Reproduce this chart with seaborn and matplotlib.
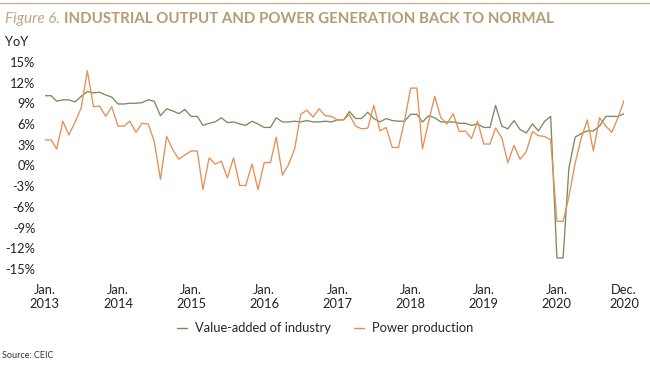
import pandas as pd
import numpy as np
import matplotlib
matplotlib.use("Agg")
from matplotlib import pyplot as plt
from matplotlib.lines import Line2D
import seaborn as sns

# monthly YoY growth, Jan 2013 - Dec 2020 (Jan and Feb reported together)
industry = [
    10.1, 10.1, 9.3, 9.5, 9.5, 9.2, 10.0, 10.7, 10.5, 10.6, 10.2, 9.9,
    8.9, 8.9, 9.0, 9.0, 9.1, 9.5, 9.3, 7.2, 8.2, 7.9, 7.5, 8.1,
    7.1, 7.1, 5.8, 6.1, 6.3, 6.9, 6.2, 6.3, 6.0, 5.8, 6.4, 6.0,
    5.5, 5.5, 6.9, 6.3, 6.3, 6.4, 6.3, 6.5, 6.3, 6.3, 6.4, 6.3,
    6.6, 6.6, 7.8, 6.8, 6.8, 7.7, 6.8, 6.3, 6.8, 6.5, 6.4, 6.4,
    7.4, 7.4, 6.3, 7.2, 6.9, 6.3, 6.3, 6.3, 6.1, 6.1, 5.8, 6.0,
    5.5, 5.5, 8.7, 5.7, 5.3, 6.5, 5.2, 4.7, 6.0, 5.0, 6.4, 7.1,
    -13.4, -13.4, -0.4, 4.1, 4.6, 5.0, 5.0, 5.7, 7.1, 7.1, 7.1, 7.5,
]
power = [
    3.7, 3.7, 2.4, 6.4, 4.4, 6.3, 8.3, 13.7, 8.5, 8.6, 7.1, 8.5,
    5.7, 5.7, 6.4, 4.8, 6.1, 6.0, 3.5, -2.0, 4.2, 2.3, 0.9, 1.5,
    2.1, 2.1, -3.5, 1.1, 0.2, 0.6, -1.8, 1.1, -2.9, -2.9, 0.2, -3.5,
    0.4, 0.4, 4.1, -1.4, 0.1, 2.4, 7.4, 8.0, 7.0, 8.2, 7.2, 7.1,
    6.6, 6.6, 7.4, 5.7, 5.3, 5.4, 8.7, 5.0, 5.5, 2.6, 2.6, 6.4,
    11.2, 11.2, 2.4, 6.4, 10.0, 6.9, 6.0, 7.5, 4.9, 5.0, 3.9, 6.4,
    3.1, 3.1, 5.4, 4.0, 0.4, 2.9, 0.9, 2.0, 4.9, 4.3, 4.2, 3.7,
    -8.1, -8.1, -4.5, 0.3, 3.9, 6.6, 2.1, 6.9, 5.7, 4.8, 6.9, 9.4,
]
months = pd.date_range("2013-01-01", "2020-12-01", freq="MS")
series_names = ["Value-added of industry", "Power production"]
tick_dates = ["2013-01", "2014-01", "2015-01", "2016-01", "2017-01",
              "2018-01", "2019-01", "2020-01", "2020-12"]
tick_labels = ["Jan.\n2013", "Jan.\n2014", "Jan.\n2015", "Jan.\n2016", "Jan.\n2017",
               "Jan.\n2018", "Jan.\n2019", "Jan.\n2020", "Dec.\n2020"]
y_ticks = [15, 12, 9, 6, 3, 0, -3, -6, -9, -12, -15]

df = pd.DataFrame({"month": months, series_names[0]: industry, series_names[1]: power})
long_df = df.melt(id_vars="month", var_name="series", value_name="yoy")

sns.set_style("white")
plt.rcParams["font.family"] = ["Lato", "DejaVu Sans"]

green = "#738f5e"
orange = "#e58f55"
tan = "#b89a72"

fig = plt.figure(figsize=(6.5, 3.66), dpi=100)
ax = fig.add_axes([0.069, 0.265, 0.891, 0.566])

sns.lineplot(data=long_df, x="month", y="yoy", hue="series",
             palette={series_names[0]: green, series_names[1]: orange},
             linewidth=0.95, ax=ax, legend=False)

ax.set_xlim(months[0], months[-1])
ax.set_ylim(-15, 15)
ax.set_yticks(y_ticks)
ax.set_yticklabels([f"{v}%" for v in y_ticks], fontsize=9.3, color="#222222")
ax.set_xticks(pd.to_datetime(tick_dates))
ax.set_xticklabels(tick_labels, fontsize=9.3, color="#222222", linespacing=1.15)
ax.tick_params(axis="both", length=0)
ax.tick_params(axis="y", pad=7)
ax.tick_params(axis="x", pad=11)
ax.set_xlabel("")
ax.set_ylabel("")
for s in ax.spines.values():
    s.set_visible(False)

handles = [Line2D([0], [0], color=green, lw=1.0),
           Line2D([0], [0], color=orange, lw=1.0)]
fig.legend(handles, series_names, loc="center", bbox_to_anchor=(0.5, 0.103),
           ncol=2, frameon=False, fontsize=9.3, handlelength=0.8,
           handletextpad=0.6, columnspacing=1.8)

# header
fig.add_artist(Line2D([0, 1], [0.992, 0.992], color="#c9b595", lw=1.0))
renderer = fig.canvas.get_renderer()
t1 = fig.text(0.008, 0.948, "Figure 6.", fontsize=11, style="italic",
              color="#c1a783", va="center")
bb = t1.get_window_extent(renderer)
x2 = (bb.x1 + 4) / fig.bbox.width
fig.text(x2, 0.948, "INDUSTRIAL OUTPUT AND POWER GENERATION BACK TO NORMAL",
         fontsize=10.8, fontweight="bold", color=tan, va="center")
fig.text(0.008, 0.885, "YoY", fontsize=9.3, color="#222222", va="center")
fig.text(0.003, 0.030, "Source: CEIC", fontsize=6.5, color="#333333", va="center")

fig.savefig("out.png", dpi=100)
